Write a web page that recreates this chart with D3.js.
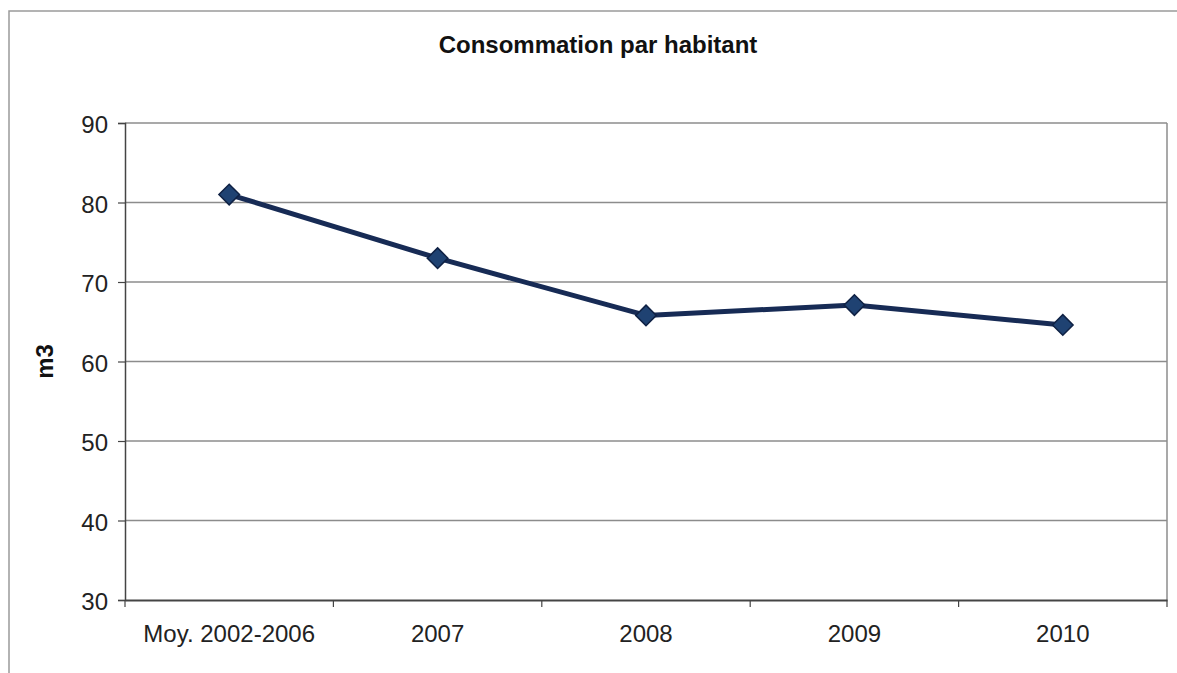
<!DOCTYPE html>
<html>
<head>
<meta charset="utf-8">
<script src="https://cdn.jsdelivr.net/npm/d3@7"></script>
<style>
  body { margin: 0; background: #fff; }
  svg { display: block; font-family: "Liberation Sans", Arial, sans-serif; }
</style>
</head>
<body>
<svg id="chart" width="1177" height="673"></svg>
<script>
// ── data ────────────────────────────────────────────────────────────────
const categories = ["Moy. 2002-2006", "2007", "2008", "2009", "2010"];
const values     = [81, 73, 65.8, 67.1, 64.6];
const yTicks     = [30, 40, 50, 60, 70, 80, 90];

// ── geometry ────────────────────────────────────────────────────────────
const plot = { left: 125, right: 1167, top: 123, bottom: 600 };
const svg = d3.select("#chart");

// outer chart frame (only top/left edges visible in the scan)
svg.append("path")
    .attr("d", "M9,673 L9,11 L1177,11")
    .attr("fill", "none")
    .attr("stroke", "#9a9a9a")
    .attr("stroke-width", 1.5);

const x = d3.scaleBand()
    .domain(categories)
    .range([plot.left, plot.right]);

const y = d3.scaleLinear()
    .domain([30, 90])
    .range([plot.bottom, plot.top]);

// gridlines
svg.append("g")
    .selectAll("line")
    .data(yTicks.filter(d => d > 30))
    .join("line")
    .attr("x1", plot.left).attr("x2", plot.right)
    .attr("y1", d => y(d)).attr("y2", d => y(d))
    .attr("stroke", "#8c8c8c")
    .attr("stroke-width", 1.3);

// plot area right border
svg.append("line")
    .attr("x1", plot.right).attr("x2", plot.right)
    .attr("y1", plot.top).attr("y2", plot.bottom)
    .attr("stroke", "#8c8c8c")
    .attr("stroke-width", 1.5);

// ── y axis ──
const yAxisG = svg.append("g")
    .attr("transform", `translate(${plot.left},0)`)
    .call(d3.axisLeft(y).tickValues(yTicks).tickSize(7).tickPadding(10));
yAxisG.select(".domain").attr("stroke", "#444").attr("stroke-width", 1.5);
yAxisG.selectAll(".tick line").attr("stroke", "#444").attr("stroke-width", 1.2);
yAxisG.selectAll("text")
    .attr("fill", "#222")
    .attr("dy", "0.4em")
    .style("font-size", "24px");

// ── x axis (ticks between categories) ──
const xAxisG = svg.append("g")
    .attr("transform", `translate(0,${plot.bottom})`)
    .call(d3.axisBottom(x).tickSize(0).tickPadding(25));
xAxisG.select(".domain").attr("stroke", "#444").attr("stroke-width", 2);
xAxisG.selectAll("text")
    .attr("fill", "#222")
    .style("font-size", "24px");

const bounds = categories.map(c => x(c)).concat([plot.right]);
xAxisG.selectAll(".bound")
    .data(bounds)
    .join("line")
    .attr("class", "bound")
    .attr("x1", d => d).attr("x2", d => d)
    .attr("y1", 0).attr("y2", 7)
    .attr("stroke", "#444")
    .attr("stroke-width", 1.2);

// ── line + markers ──
const pts = categories.map((c, i) => [x(c) + x.bandwidth() / 2, y(values[i])]);

svg.append("path")
    .datum(pts)
    .attr("d", d3.line())
    .attr("fill", "none")
    .attr("stroke", "#172b55")
    .attr("stroke-width", 5)
    .attr("stroke-linejoin", "round");

svg.append("g")
    .selectAll("path")
    .data(pts)
    .join("path")
    .attr("transform", d => `translate(${d[0]},${d[1]})`)
    .attr("d", d3.symbol(d3.symbolDiamond2, 270))
    .attr("fill", "#1f4272")
    .attr("stroke", "#0f2144")
    .attr("stroke-width", 1.5);

// ── titles ──
svg.append("text")
    .attr("x", 598).attr("y", 53)
    .attr("text-anchor", "middle")
    .attr("fill", "#111")
    .style("font-size", "24px")
    .style("font-weight", "bold")
    .text("Consommation par habitant");

svg.append("text")
    .attr("transform", `translate(53,${(plot.top + plot.bottom) / 2}) rotate(-90)`)
    .attr("text-anchor", "middle")
    .attr("fill", "#111")
    .style("font-size", "24px")
    .style("font-weight", "bold")
    .text("m3");
</script>
</body>
</html>
